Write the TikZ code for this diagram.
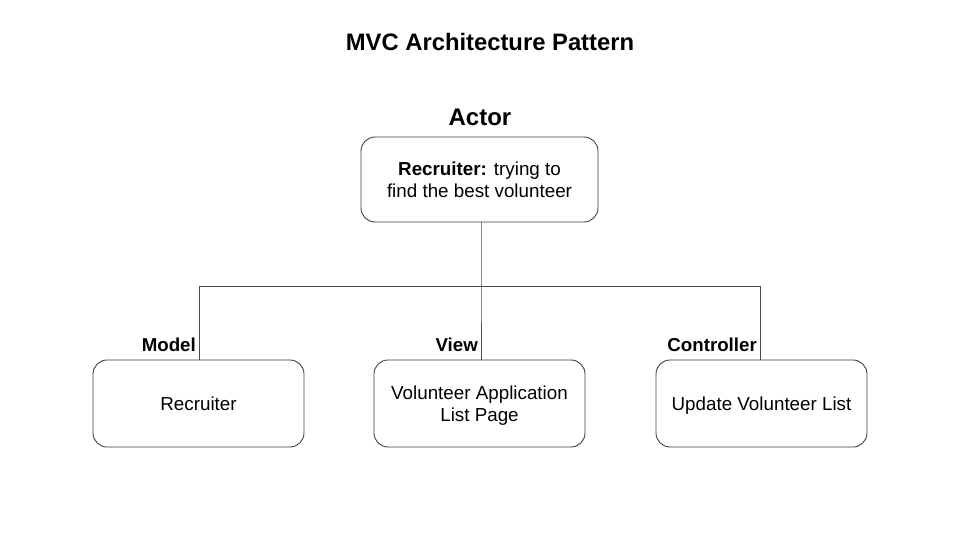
\documentclass[tikz,border=0pt]{standalone}
\usepackage{fontspec}
\setmainfont{Liberation Sans}
\begin{document}
\begin{tikzpicture}[x=1pt,y=-1pt,
  box/.style={draw=black!75, line width=0.9pt, rounded corners=14pt, fill=white, align=center, font=\fontsize{18.8}{22}\selectfont},
  conn/.style={draw=black!70, line width=0.9pt},
  lbl/.style={font=\bfseries\fontsize{18.7}{22}\selectfont, anchor=base east, inner sep=0pt}]
\useasboundingbox (0,0) rectangle (960,540);
\node[font=\bfseries\fontsize{23.8}{28}\selectfont] (title) at (490,42) {MVC Architecture Pattern};
\node[font=\bfseries\fontsize{24}{28}\selectfont] (actorlbl) at (480,117) {Actor};
\node[box, minimum width=237pt, minimum height=85pt] (actor) at (479.5,179.5) {\textbf{Recruiter:} trying to\\find the best volunteer};
\node[box, text depth=0pt, minimum width=211pt, minimum height=87pt] (model) at (198.5,403.5) {Recruiter};
\node[box, text depth=0pt, minimum width=211pt, minimum height=87pt] (view) at (479.5,403.5) {Volunteer Application\\List Page};
\node[box, text depth=0pt, minimum width=211pt, minimum height=87pt] (ctrl) at (761.5,403.5) {Update Volunteer List};
\coordinate (junc) at (481,286);
\coordinate (lj) at (199,286);
\coordinate (rj) at (760,286);
\draw[conn] (actor.south -| junc) -- (junc) -- (view.north -| junc);
\draw[conn] (lj) -- (rj);
\draw[conn] (lj) -- (model.north -| lj);
\draw[conn] (rj) -- (ctrl.north -| rj);
\node[lbl] (mlbl) at (196,351) {Model};
\node[lbl] (vlbl) at (478,351) {View};
\node[lbl] (clbl) at (757,351) {Controller};
\end{tikzpicture}
\end{document}
